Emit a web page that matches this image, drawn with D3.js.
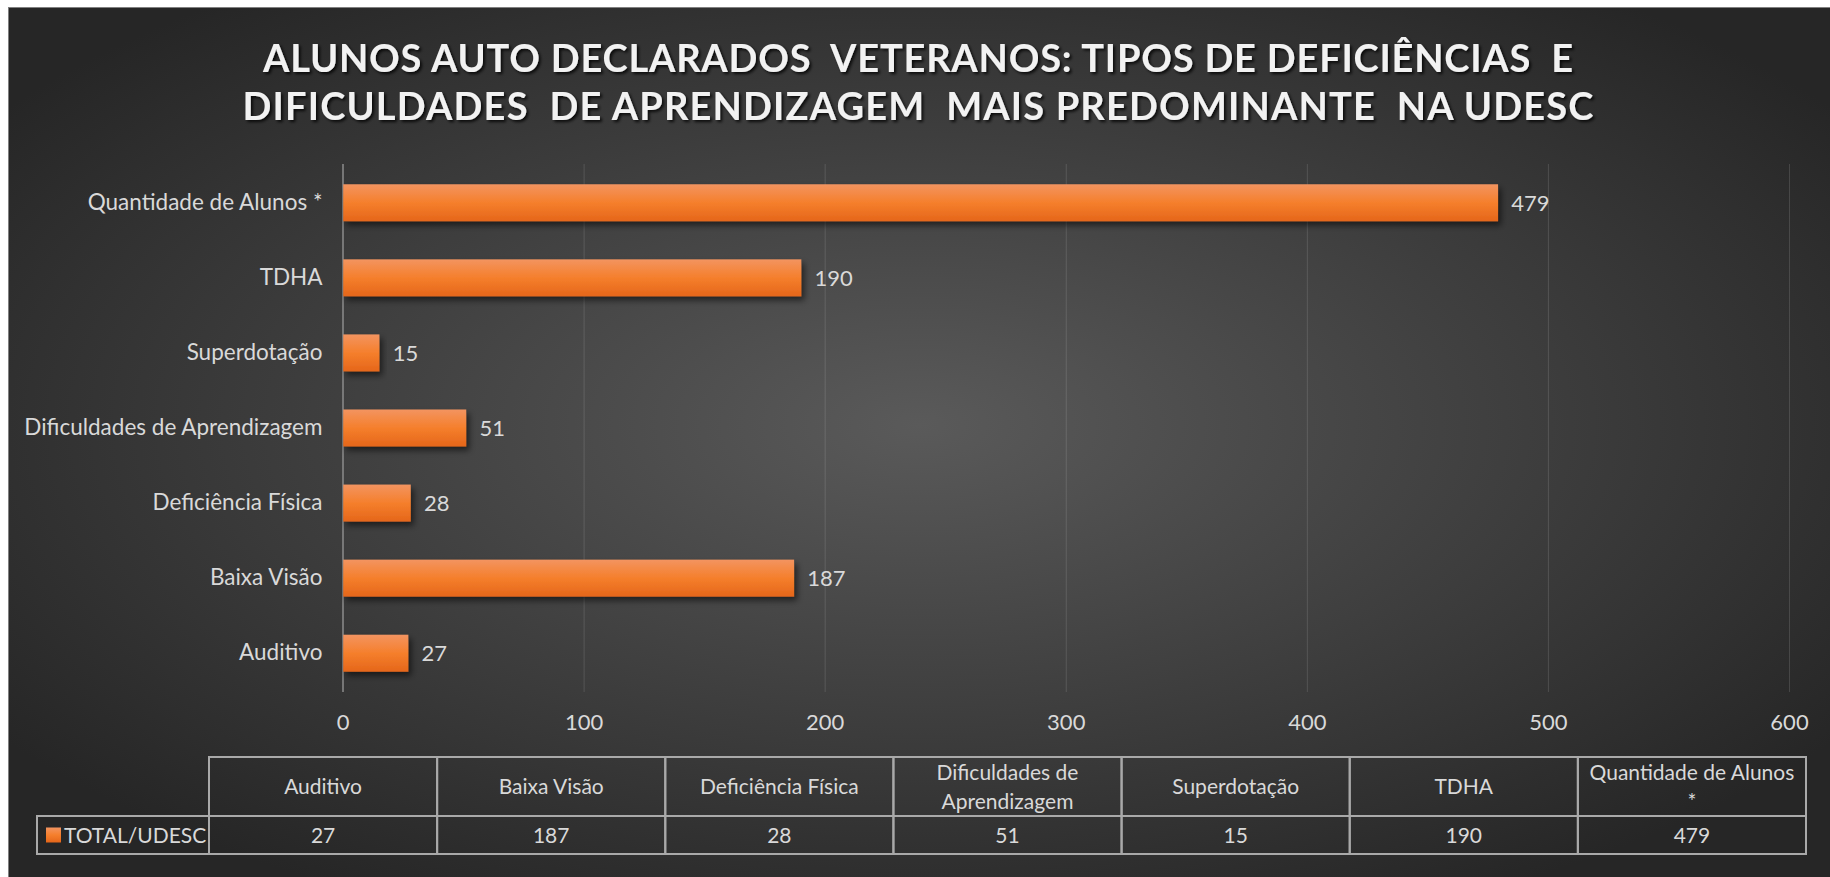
<!DOCTYPE html>
<html>
<head>
<meta charset="utf-8">
<script src="https://cdn.jsdelivr.net/npm/d3@7"></script>
<style>
  body { margin: 0; background: #ffffff; }
  svg { display: block; }
  text { font-family: "Lato", "Open Sans", sans-serif; }
</style>
</head>
<body>
<div class="chart_container"></div>
<script>
// data
const categories = ['Auditivo', 'Baixa Visão', 'Deficiência Física', 'Dificuldades de Aprendizagem', 'Superdotação', 'TDHA', 'Quantidade de Alunos *']
const values = [27, 187, 28, 51, 15, 190, 479]
const xTicks = [0, 100, 200, 300, 400, 500, 600]
const seriesName = 'TOTAL/UDESC'
const titleLines = [
  'ALUNOS AUTO DECLARADOS  VETERANOS: TIPOS DE DEFICIÊNCIAS  E',
  'DIFICULDADES  DE APRENDIZAGEM  MAIS PREDOMINANTE  NA UDESC'
]

const barData = categories.map((c, i) => ({ category: c, value: values[i] }))

const svg_width = 1830
const svg_height = 877
const plot = { left: 342.5, right: 1789, top: 164, bottom: 692 }

const svg = d3.select('.chart_container').append('svg')
  .attr('width', svg_width).attr('height', svg_height)

const defs = svg.append('defs')

// background gradient
const bg = defs.append('radialGradient').attr('id', 'bg')
  .attr('cx', '50%').attr('cy', '48%').attr('r', '62%')
bg.append('stop').attr('offset', '0%').attr('stop-color', '#5a5a5a')
bg.append('stop').attr('offset', '100%').attr('stop-color', '#262626')

// bar gradient
const barGrad = defs.append('linearGradient').attr('id', 'barGrad')
  .attr('x1', 0).attr('y1', 0).attr('x2', 0).attr('y2', 1)
barGrad.append('stop').attr('offset', '0%').attr('stop-color', '#f39460')
barGrad.append('stop').attr('offset', '50%').attr('stop-color', '#f57f2c')
barGrad.append('stop').attr('offset', '100%').attr('stop-color', '#e5661a')

const shadow = defs.append('filter').attr('id', 'shadow')
  .attr('x', '-10%').attr('y', '-30%').attr('width', '130%').attr('height', '180%')
shadow.append('feDropShadow').attr('dx', 3).attr('dy', 4).attr('stdDeviation', 3)
  .attr('flood-color', '#000').attr('flood-opacity', 0.55)

const titleShadow = defs.append('filter').attr('id', 'titleShadow')
titleShadow.append('feDropShadow').attr('dx', 2).attr('dy', 2).attr('stdDeviation', 1.5)
  .attr('flood-color', '#000').attr('flood-opacity', 0.8)

svg.append('rect')
  .attr('x', 8.5).attr('y', 7.5)
  .attr('width', svg_width - 8).attr('height', svg_height - 7)
  .attr('fill', 'url(#bg)')
  .attr('stroke', '#808080').attr('stroke-width', 1)

// title
const title = svg.append('g').attr('class', 'title')
  .attr('filter', 'url(#titleShadow)')
const titleBase = [72, 120]
const titleLen = [1310, 1351]
titleLines.forEach((t, i) => {
  title.append('text')
    .attr('x', 918).attr('y', titleBase[i])
    .attr('text-anchor', 'middle')
    .attr('textLength', titleLen[i]).attr('lengthAdjust', 'spacing')
    .style('font-size', '38px').style('font-weight', 'bold')
    .style('fill', '#f2f2f2')
    .style('white-space', 'pre')
    .text(t)
})

// scales
const xScale = d3.scaleLinear().domain([0, 600]).range([plot.left, plot.right])
const yScale = d3.scaleBand().domain(categories.slice().reverse())
  .range([plot.top, plot.bottom])
  .paddingInner(0.507).paddingOuter(0.27)

// gridlines
const xAxis = d3.axisBottom(xScale).tickValues(xTicks)
  .tickSize(-(plot.bottom - plot.top)).tickPadding(22)
const xAxisDraw = svg.append('g').attr('class', 'x axis')
  .attr('transform', `translate(0,${plot.bottom})`).call(xAxis)
xAxisDraw.select('.domain').remove()
xAxisDraw.selectAll('.tick line')
  .attr('stroke', d => d === 0 ? '#8c8c8c' : 'rgba(255,255,255,0.13)')
  .attr('stroke-width', d => d === 0 ? 1.5 : 1)
xAxisDraw.selectAll('.tick text')
  .style('font-size', '22px').style('fill', '#d9d9d9')
  .attr('dy', '0.71em')

// bars
svg.selectAll('.bar').data(barData).enter()
  .append('rect').attr('class', 'bar')
  .attr('x', xScale(0) + 0.75)
  .attr('y', d => yScale(d.category))
  .attr('width', d => xScale(d.value) - xScale(0))
  .attr('height', yScale.bandwidth())
  .attr('fill', 'url(#barGrad)')
  .attr('filter', 'url(#shadow)')

// value labels
svg.selectAll('.value').data(barData).enter()
  .append('text').attr('class', 'value')
  .attr('x', d => xScale(d.value) + 14)
  .attr('y', d => yScale(d.category) + yScale.bandwidth() / 2)
  .attr('dy', '0.36em')
  .style('font-size', '22px').style('fill', '#d9d9d9')
  .text(d => d.value)

// category labels
const yAxis = d3.axisLeft(yScale).tickSize(0).tickPadding(20)
const yAxisDraw = svg.append('g').attr('class', 'y axis')
  .attr('transform', `translate(${plot.left},0)`).call(yAxis)
yAxisDraw.select('.domain').remove()
yAxisDraw.selectAll('text')
  .style('font-size', '22.5px').style('fill', '#d9d9d9')

// data table
const table = { left: 209, right: 1806, top: 757, mid: 816, bottom: 854, legendLeft: 37 }
const colScale = d3.scaleBand().domain(categories).range([table.left, table.right])
const tableG = svg.append('g').attr('class', 'table')
const lineColor = '#a9a9a9'
const tableFont = '21px'

tableG.selectAll('.hcell').data(categories).enter()
  .append('rect').attr('class', 'hcell')
  .attr('x', d => colScale(d)).attr('y', table.top)
  .attr('width', colScale.bandwidth()).attr('height', table.mid - table.top)
  .attr('fill', 'none').attr('stroke', lineColor).attr('stroke-width', 2)

tableG.selectAll('.dcell').data(categories).enter()
  .append('rect').attr('class', 'dcell')
  .attr('x', d => colScale(d)).attr('y', table.mid)
  .attr('width', colScale.bandwidth()).attr('height', table.bottom - table.mid)
  .attr('fill', 'none').attr('stroke', lineColor).attr('stroke-width', 2)

tableG.append('rect')
  .attr('x', table.legendLeft).attr('y', table.mid)
  .attr('width', table.left - table.legendLeft).attr('height', table.bottom - table.mid)
  .attr('fill', 'none').attr('stroke', lineColor).attr('stroke-width', 2)

// header text, wrapped to the column width
const headMid = (table.top + table.mid) / 2
tableG.selectAll('.htext').data(categories).enter()
  .append('text').attr('class', 'htext')
  .attr('text-anchor', 'middle')
  .style('font-size', tableFont).style('fill', '#d9d9d9')
  .each(function(d) {
    const el = d3.select(this)
    const cx = colScale(d) + colScale.bandwidth() / 2
    const words = d.split(' ')
    const lines = []
    let line = []
    const probe = el.append('tspan')
    words.forEach(w => {
      const test = line.concat(w).join(' ')
      probe.text(test)
      if (probe.node().getComputedTextLength() > colScale.bandwidth() - 14 && line.length) {
        lines.push(line.join(' '))
        line = [w]
      } else {
        line.push(w)
      }
    })
    lines.push(line.join(' '))
    probe.remove()
    const lh = 29
    lines.forEach((l, i) => {
      el.append('tspan')
        .attr('x', cx)
        .attr('y', headMid + (i - (lines.length - 1) / 2) * lh)
        .attr('dy', '0.36em')
        .text(l)
    })
  })

// data row text
const dataMid = (table.mid + table.bottom) / 2
tableG.selectAll('.dtext').data(barData).enter()
  .append('text').attr('class', 'dtext')
  .attr('x', d => colScale(d.category) + colScale.bandwidth() / 2)
  .attr('y', dataMid).attr('dy', '0.36em')
  .attr('text-anchor', 'middle')
  .style('font-size', tableFont).style('fill', '#d9d9d9')
  .text(d => d.value)

// legend key
tableG.append('rect')
  .attr('x', 46).attr('y', dataMid - 7.5)
  .attr('width', 15).attr('height', 15)
  .attr('fill', 'url(#barGrad)')
tableG.append('text')
  .attr('x', 64).attr('y', dataMid).attr('dy', '0.36em')
  .style('font-size', tableFont).style('fill', '#d9d9d9')
  .text(seriesName)
</script>
</body>
</html>
